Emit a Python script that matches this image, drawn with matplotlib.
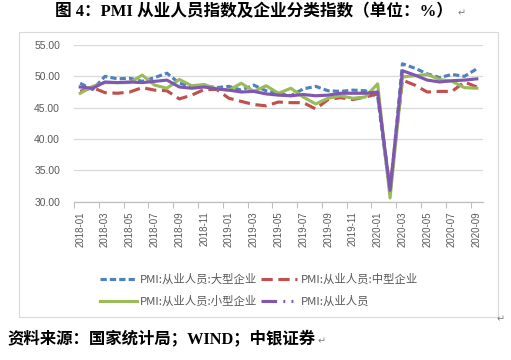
import matplotlib
matplotlib.use("Agg")
import matplotlib.pyplot as plt
from matplotlib.lines import Line2D
from matplotlib.patches import Rectangle
import numpy as np

# monthly data 2018-01 .. 2020-09
months = ["%d-%02d" % (2018 + i // 12, i % 12 + 1) for i in range(33)]

large = [48.9, 47.9, 50.0, 49.6, 49.7, 49.2, 49.8, 50.5, 48.9, 48.4, 48.5,
         48.2, 48.4, 47.8, 48.6, 47.7, 47.3, 46.9, 48.0, 48.4, 47.7, 47.6,
         47.8, 47.7, 46.8, 31.3, 52.0, 51.3, 50.4, 49.8, 50.3, 50.0, 51.2]
medium = [47.6, 48.2, 47.4, 47.3, 47.5, 48.2, 47.8, 47.7, 46.4, 47.0, 47.9,
          47.9, 46.5, 46.0, 45.5, 45.3, 45.9, 45.8, 45.8, 44.8, 46.3, 46.6,
          46.3, 46.7, 47.2, 32.0, 49.4, 48.6, 47.5, 47.6, 47.6, 49.1, 48.3]
small = [47.3, 48.4, 49.0, 49.0, 49.0, 50.2, 48.6, 48.1, 49.5, 48.5, 48.7,
         48.0, 47.8, 48.9, 47.6, 48.5, 47.3, 48.1, 46.7, 45.6, 46.5, 46.9,
         46.5, 46.7, 48.8, 30.6, 49.9, 50.1, 50.3, 49.5, 49.2, 48.2, 48.1]
overall = [48.3, 48.1, 49.1, 49.0, 49.1, 49.0, 49.2, 49.4, 48.3, 48.1, 48.3,
           48.0, 47.8, 47.5, 47.6, 47.2, 47.0, 46.9, 47.1, 46.9, 47.0, 47.3,
           47.3, 47.3, 47.5, 31.8, 50.9, 50.2, 49.4, 49.1, 49.3, 49.4, 49.6]

labels = ["PMI:从业人员:大型企业", "PMI:从业人员:中型企业",
          "PMI:从业人员:小型企业", "PMI:从业人员"]
colors = ["#4F81BD", "#C0504D", "#9BBB59", "#7E57B0"]

plt.rcParams['font.family'] = ['Noto Sans CJK SC', 'DejaVu Sans']

fig = plt.figure(figsize=(5.11, 3.6), dpi=100)
ax = fig.add_axes([74 / 511, 1 - 201.7 / 360, 409 / 511, 156.7 / 360])

x = np.arange(len(months))
lw = 2.25
ax.plot(x, large, color=colors[0], lw=lw, linestyle=(0, (2, 1)))
ax.plot(x, medium, color=colors[1], lw=lw, linestyle=(0, (3.6, 1.8)))
ax.plot(x, small, color=colors[2], lw=lw, linestyle="-")
ax.plot(x, overall, color=colors[3], lw=lw, linestyle="-")

ax.set_xlim(-0.5, len(months) - 0.5)
ax.set_ylim(30, 55)
ax.set_yticks(np.arange(30, 56, 5))
ax.set_yticklabels(["%.2f" % v for v in np.arange(30, 56, 5)])
ax.yaxis.grid(True, color="#D9D9D9", lw=0.9)
ax.set_axisbelow(True)

ax.set_xticks(x[::2])
ax.set_xticklabels(months[::2], rotation=90, family=['Liberation Sans', 'DejaVu Sans'])
ax.set_xticks(np.arange(-0.5, len(months), 2), minor=True)
ax.tick_params(axis="x", which="major", length=0, pad=7, labelsize=7, labelcolor="#595959")
ax.tick_params(axis="x", which="minor", length=4, color="#BFBFBF", width=0.8)
ax.tick_params(axis="y", length=0, pad=10, labelsize=7.5, labelcolor="#595959")
for t in ax.get_yticklabels():
    t.set_family(['Liberation Sans', 'DejaVu Sans'])

for s in ["top", "right", "left"]:
    ax.spines[s].set_visible(False)
ax.spines["bottom"].set_color("#BFBFBF")
ax.spines["bottom"].set_linewidth(0.9)

# legend (ordered so rows read large/medium, small/overall)
handles = [
    Line2D([], [], color=colors[0], lw=lw, linestyle=(0, (2, 1))),
    Line2D([], [], color=colors[2], lw=lw, linestyle="-"),
    Line2D([], [], color=colors[1], lw=lw, linestyle=(0, (3.6, 1.8))),
    Line2D([], [], color=colors[3], lw=lw, linestyle=(0, (5, 2, 0.6, 2, 0.6, 2))),
]
leg_labels = [labels[0], labels[2], labels[1], labels[3]]
leg = fig.legend(handles, leg_labels, ncol=2, loc="center", bbox_to_anchor=(259 / 511, 1 - 290 / 360),
                 frameon=False, fontsize=8.2, handlelength=3.2, handletextpad=0.3,
                 columnspacing=0.3, labelspacing=0.95)
for t in leg.get_texts():
    t.set_color("#595959")

# chart frame
fig.patches.append(Rectangle((19 / 511, 1 - 317 / 360), 479 / 511, 285 / 360,
                             transform=fig.transFigure, fill=False, ec="#D9D9D9", lw=0.8))

serif_cjk = ['Liberation Serif', 'Noto Sans CJK SC', 'DejaVu Sans']
fig.text(254 / 511, 1 - 12 / 360, "图 4：PMI 从业人员指数及企业分类指数（单位：%）",
         ha="center", va="center", fontsize=12, fontweight="bold", family=serif_cjk)
fig.text(462 / 511, 1 - 13 / 360, "↵", ha="center", va="center", fontsize=7,
         color="#808080", family=['DejaVu Sans'])
fig.text(7 / 511, 1 - 340 / 360, "资料来源：国家统计局；WIND；中银证券",
         ha="left", va="center", fontsize=11.8, fontweight="bold", family=serif_cjk)
fig.text(322 / 511, 1 - 341 / 360, "↵", ha="center", va="center", fontsize=7,
         color="#808080", family=['DejaVu Sans'])
fig.text(501 / 511, 1 - 319 / 360, "↵", ha="center", va="center", fontsize=7,
         color="#808080", family=['DejaVu Sans'])

fig.savefig("out.png", dpi=100)
